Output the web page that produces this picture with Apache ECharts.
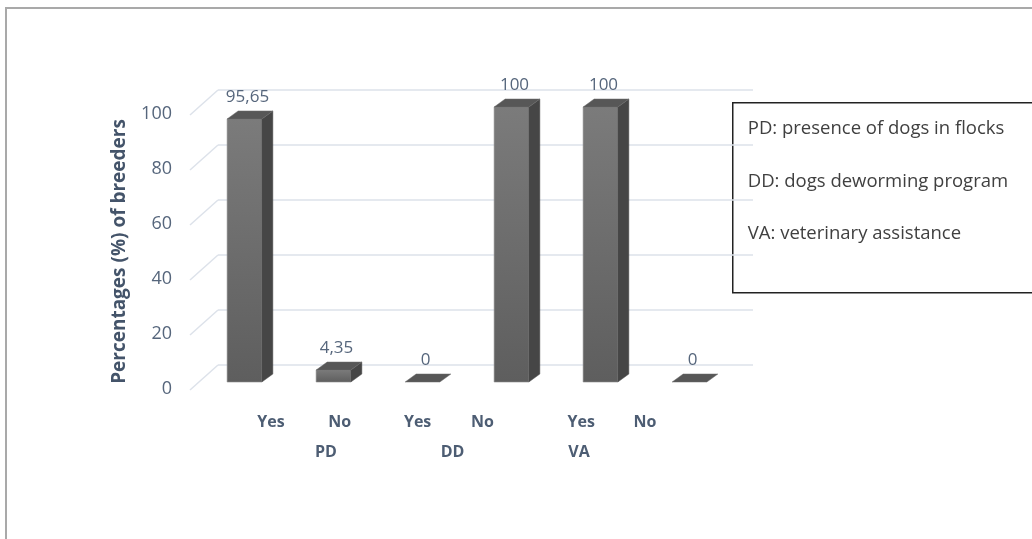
<!DOCTYPE html>
<html><head><meta charset="utf-8">
<script src="https://cdn.jsdelivr.net/npm/echarts@6/dist/echarts.min.js"></script>
<style>html,body{margin:0;padding:0;background:#fff}#c{width:1032px;height:539px}</style>
</head><body><div id="c"></div>
<script>
const barCategories = ['PD-Yes','PD-No','DD-Yes','DD-No','VA-Yes','VA-No'];
const barValues = [95.65, 4.35, 0, 100, 100, 0];
const answerLabels = ['Yes','No','Yes','No','Yes','No'];
const groupLabels = ['PD','DD','VA'];
const yTicks = [0,20,40,60,80,100];
const yTitle = 'Percentages (%) of breeders';
const legendLines = ['PD: presence of dogs in flocks','DD: dogs deworming program','VA: veterinary assistance'];

const FONT = 'Open Sans';
const TXT = '#56667c';
const LBL = '#4d5d73';
// small horizontal nudges (px) of the Yes/No labels, styling only
const answerNudge = [0, -6, -3, -13, 11, 0];
const chart = echarts.init(document.getElementById('c'));

function bar3d(params, api){
  const i = api.value(0), v = api.value(1);
  const base = api.coord([i, 0]);
  const top = api.coord([i, v]);
  const band = api.size([1, 0])[0];
  const w = band * 0.39, dx = 11, dy = 8;
  const x = base[0] - w/2, yb = base[1], yt = top[1];
  const children = [];
  if (yb - yt > 0.5) {
    children.push({type:'rect', shape:{x:x, y:yt, width:w, height:yb-yt},
      style:{fill:new echarts.graphic.LinearGradient(0,0,0,1,[{offset:0,color:'#7b7b7b'},{offset:1,color:'#5e5e5e'}]), stroke:'#8a8a8a', lineWidth:0.6}});
    children.push({type:'polygon', shape:{points:[[x+w,yt],[x+w+dx,yt-dy],[x+w+dx,yb-dy],[x+w,yb]]},
      style:{fill:'#464646', stroke:'#555', lineWidth:0.5}});
  }
  children.push({type:'polygon', shape:{points:[[x,yt],[x+dx,yt-dy],[x+w+dx,yt-dy],[x+w,yt]]},
    style:{fill:'#575757', stroke:'#6a6a6a', lineWidth:0.5}});
  children.push({type:'text', style:{text:String(v).replace('.', ','), x:base[0]+3, y:yt-dy-5,
    align:'center', verticalAlign:'bottom', fill:TXT, font:'17px "'+FONT+'"'}});
  return {type:'group', children:children};
}

function diag(params, api){
  const p = api.coord([0, api.value(0)]);
  return {type:'line', shape:{x1:p[0], y1:p[1], x2:p[0]-28, y2:p[1]+25},
    style:{stroke:'#dde2ea', lineWidth:1.5}};
}

const answerRich = {};
answerNudge.forEach((d,i)=>{
  answerRich['p'+i] = {color:LBL, fontFamily:FONT, fontSize:16, fontWeight:'bold',
    padding: d >= 0 ? [0,0,0,2*d] : [0,-2*d,0,0]};
});

const option = {
  animation:false,
  grid:[
    {left:200, top:107, width:534, height:275},
    {left:218, top:90, width:535, height:275},
    {left:190, top:114, width:10, height:275},
    {left:233.6, top:403, width:448.8, height:1},
    {left:262.75, top:433, width:379.5, height:1}
  ],
  xAxis:[
    {gridIndex:0, type:'category', data:barCategories, show:false},
    {gridIndex:1, type:'value', min:0, max:1, show:false},
    {gridIndex:2, type:'value', show:false},
    {gridIndex:3, type:'category', data:answerLabels, axisLine:{show:false}, axisTick:{show:false},
      axisLabel:{margin:10, interval:0, formatter:(v,i)=>'{p'+i+'|'+v+'}', rich:answerRich}},
    {gridIndex:4, type:'category', data:groupLabels, axisLine:{show:false}, axisTick:{show:false},
      axisLabel:{color:LBL, fontFamily:FONT, fontSize:16, fontWeight:'bold', margin:10}}
  ],
  yAxis:[
    {gridIndex:0, type:'value', min:0, max:100, show:false},
    {gridIndex:1, type:'value', min:0, max:100, interval:20, axisLabel:{show:false}, axisLine:{show:false}, axisTick:{show:false},
      splitLine:{lineStyle:{color:'#dde2ea', width:1.5}}},
    {gridIndex:2, type:'value', min:0, max:100, interval:20, axisLine:{show:false}, axisTick:{show:false}, splitLine:{show:false},
      axisLabel:{color:TXT, fontFamily:FONT, fontSize:18, margin:18},
      name:yTitle, nameLocation:'middle', nameGap:61, nameRotate:90,
      nameTextStyle:{color:'#44546a', fontFamily:FONT, fontSize:19, fontWeight:'bold'}},
    {gridIndex:3, show:false},
    {gridIndex:4, show:false}
  ],
  series:[
    {type:'custom', xAxisIndex:1, yAxisIndex:1, data:yTicks.map(t=>[t]), encode:{y:0}, renderItem:diag, silent:true, z:1},
    {type:'custom', xAxisIndex:0, yAxisIndex:0, data:barValues.map((v,i)=>[i,v]), encode:{x:0,y:1}, renderItem:bar3d, z:3}
  ],
  graphic:[
    {type:'rect', shape:{x:6, y:8, width:1040, height:545}, style:{fill:'none', stroke:'#a9a9a9', lineWidth:2}, z:10},
    {type:'group', left:732, top:102, z:20, children:[
      {type:'rect', shape:{x:0, y:0, width:320, height:190}, style:{fill:'#fff', stroke:'#222', lineWidth:1.5}},
      ...legendLines.map((t,k)=>({type:'text', style:{text:t, x:15, y:26+k*52.5, verticalAlign:'middle', fill:'#404040', font:'18.5px "'+FONT+'"'}}))
    ]}
  ]
};
chart.setOption(option);
</script></body></html>
